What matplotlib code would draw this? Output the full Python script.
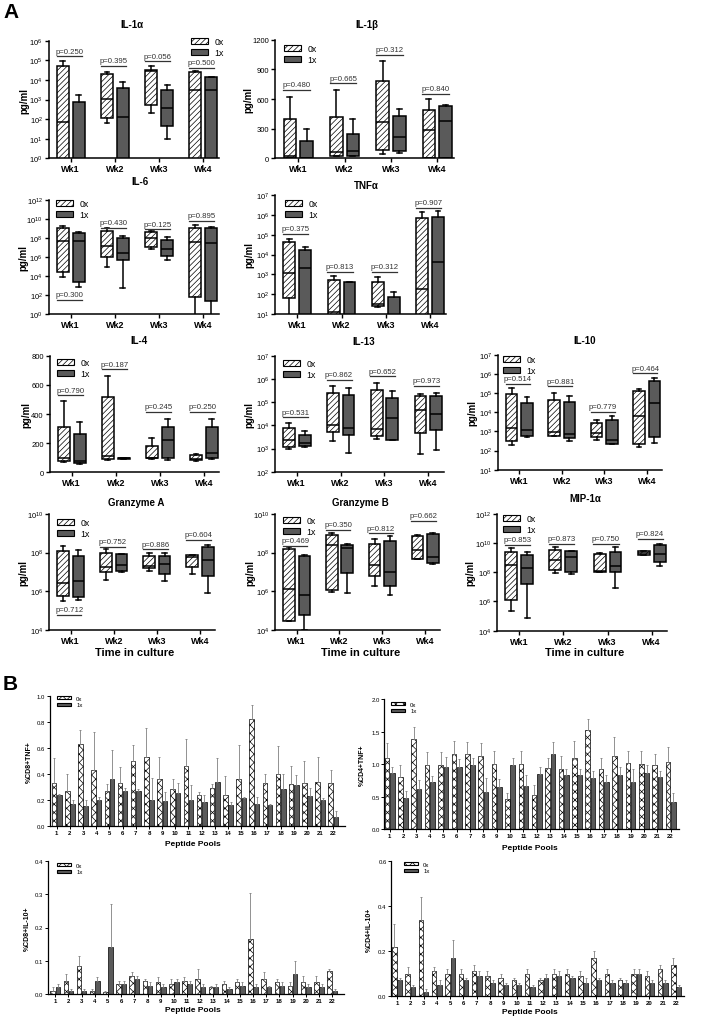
import numpy as np
import matplotlib
matplotlib.use("Agg")
import matplotlib.pyplot as plt
import matplotlib.patches as mpatches
from matplotlib.ticker import FixedLocator, FuncFormatter

plt.rcParams["font.family"] = ["Liberation Sans", "DejaVu Sans"]
plt.rcParams["mathtext.default"] = "regular"
plt.rcParams["hatch.linewidth"] = 0.5

W, H = 707, 1020
DARK = "#5a5a5a"
WEEKS = ["Wk1", "Wk2", "Wk3", "Wk4"]

# ---- Panel A: box summaries per week, [whislo, q1, median, q3, whishi] in pg/ml
IL1A_0X = [[0.1, 0.1, 70, 5.4e4, 9e4], [63, 110, 1070, 1.95e4, 2.6e4],
           [200, 520, 2.95e4, 3.3e4, 4.9e4], [0.1, 0.1, 2950, 2.45e4, 2.9e4]]
IL1A_1X = [[0.1, 0.1, 0.1, 780, 1600], [0.1, 0.1, 125, 4000, 8100],
           [10, 47, 355, 3100, 5800], [0.1, 0.1, 3100, 1.4e4, 1.4e4]]
IL1A_P = ["p=0.250", "p=0.395", "p=0.056", "p=0.500"]
IL1A_PY = [1.6e5, 5.4e4, 9e4, 4e4]

IL1B_0X = [[0, 0, 20, 400, 625], [20, 25, 60, 420, 695],
           [45, 85, 370, 785, 985], [0, 0, 290, 485, 600]]
IL1B_1X = [[0, 0, 0, 170, 300], [20, 25, 75, 245, 400],
           [50, 75, 215, 430, 500], [0, 0, 375, 530, 535]]
IL1B_P = ["p=0.480", "p=0.665", "p=0.312", "p=0.840"]
IL1B_PY = [690, 760, 1045, 650]

IL6_0X = [[8.3e3, 2.8e4, 4.9e7, 1.05e9, 1.9e9], [8.5e4, 1.0e6, 1.5e7, 4.7e8, 1.15e9],
          [6e6, 1.15e7, 8.7e7, 3.7e8, 5.5e8], [0.1, 66, 3.9e7, 1.05e9, 2.2e9]]
IL6_1X = [[630, 2.1e3, 4.9e7, 2.9e8, 4.4e8], [540, 5e5, 2.5e6, 8.7e7, 1.66e8],
          [4.3e5, 1.1e6, 6e6, 6.3e7, 1.1e8], [0.1, 21, 2.8e7, 1.15e9, 1.35e9]]
IL6_P = ["p=0.300", "p=0.430", "p=0.125", "p=0.895"]
IL6_PY = [32, 1.2e9, 7.6e8, 6.2e9]

TNFA_0X = [[1, 62, 1200, 4.5e4, 6e4], [1, 1, 12.6, 510, 850],
           [22, 26, 32, 430, 760], [1, 1, 180, 6.6e5, 1.35e6]]
TNFA_1X = [[1, 1, 2000, 1.7e4, 2.4e4], [1, 1, 1, 400, 400],
           [1, 1, 1, 69, 123], [1, 1, 4400, 7.9e5, 1.5e6]]
TNFA_P = ["p=0.375", "p=0.813", "p=0.312", "p=0.907"]
TNFA_PY = [1.07e5, 1350, 1350, 2.3e6]

IL4_0X = [[68, 80, 98, 308, 490], [87, 91, 109, 520, 661],
          [91, 98, 100, 182, 235], [80, 84, 91, 121, 125]]
IL4_1X = [[57, 64, 80, 262, 342], [91, 91, 96, 98, 98],
          [82, 96, 219, 312, 369], [91, 100, 130, 310, 369]]
IL4_P = ["p=0.790", "p=0.187", "p=0.245", "p=0.250"]
IL4_PY = [529, 707, 415, 415]

IL13_0X = [[955, 1120, 2340, 7400, 1.23e4], [2040, 5370, 1.02e4, 2.4e5, 4.8e5],
           [2570, 3550, 6900, 3.2e5, 6.8e5], [575, 4700, 4.6e4, 1.8e5, 2.2e5]]
IL13_1X = [[1120, 1230, 1660, 3800, 5500], [645, 3800, 7600, 2.0e5, 4.0e5],
           [2240, 2400, 2.0e4, 1.55e5, 2.95e5], [830, 6450, 3.1e4, 1.9e5, 2.4e5]]
IL13_P = ["p=0.531", "p=0.862", "p=0.652", "p=0.973"]
IL13_PY = [2.2e4, 9.1e5, 1.3e6, 5.1e5]

IL10_0X = [[205, 300, 1450, 8.9e4, 1.8e5], [550, 600, 890, 4.6e4, 9.8e4],
           [340, 510, 830, 2630, 4000], [150, 230, 6600, 1.3e5, 1.66e5]]
IL10_1X = [[510, 600, 1150, 3.0e4, 6.0e4], [320, 440, 760, 3.5e4, 7.4e4],
           [210, 210, 370, 4100, 6600], [240, 510, 3.0e4, 4.5e5, 6.2e5]]
IL10_P = ["p=0.514", "p=0.881", "p=0.779", "p=0.464"]
IL10_PY = [3.0e5, 2.3e5, 1.1e4, 1.1e6]

GZA_0X = [[3.0e5, 5.8e5, 2.8e6, 1.15e8, 2.3e8], [3.9e6, 1.0e7, 1.8e7, 9.3e7, 1.5e8],
          [1.07e7, 1.5e7, 2.1e7, 6.8e7, 1.0e8], [7.8e6, 1.8e7, 5.9e7, 7.6e7, 7.6e7]]
GZA_1X = [[3.4e5, 5.1e5, 3.2e6, 6.8e7, 1.35e8], [1.0e7, 1.07e7, 2.2e7, 8.3e7, 8.9e7],
          [3.5e6, 7.8e6, 2.6e7, 6.8e7, 1.0e8], [7.8e5, 5.9e6, 4.0e7, 2.0e8, 2.6e8]]
GZA_P = ["p=0.712", "p=0.752", "p=0.886", "p=0.604"]
GZA_PY = [6e4, 2e8, 1.5e8, 4.4e8]

GZB_0X = [[2.9e4, 2.9e4, 1.3e6, 1.5e8, 2.0e8], [8.7e5, 1.15e6, 2.6e8, 7.9e8, 1.0e9],
          [1.95e6, 5.9e6, 2.2e7, 2.75e8, 5.1e8], [4.5e7, 4.5e7, 1.4e8, 7.1e8, 7.9e8]]
GZB_1X = [[1e4, 5.5e4, 6.3e5, 6.8e7, 7.6e7], [7.8e5, 8.7e6, 1.8e8, 2.6e8, 2.75e8],
          [6.3e5, 1.74e6, 1.0e7, 3.9e8, 7.1e8], [2.45e7, 2.95e7, 5.9e7, 9.3e8, 1.07e9]]
GZB_P = ["p=0.469", "p=0.350", "p=0.812", "p=0.662"]
GZB_PY = [2.2e8, 1.5e9, 1.0e9, 4.4e9]

MIP_0X = [[2.3e5, 1.3e6, 3.2e8, 2.3e9, 4.4e9], [8.9e7, 1.5e8, 7.2e8, 3.5e9, 5.1e9],
          [1.0e8, 1.1e8, 1.15e8, 1.8e9, 2.1e9], [1.5e9, 1.5e9, 2.1e9, 3.0e9, 3.0e9]]
MIP_1X = [[7.4e4, 1.6e7, 1.9e8, 1.5e9, 2.3e9], [7.6e7, 1.1e8, 1.05e9, 3.0e9, 3.0e9],
          [7.9e6, 1.0e8, 2.6e8, 2.6e9, 5.1e9], [2.6e8, 4.8e8, 1.8e9, 7.4e9, 8.7e9]]
MIP_P = ["p=0.853", "p=0.873", "p=0.750", "p=0.824"]
MIP_PY = [7.4e9, 8.7e9, 8.7e9, 1.9e10]

# ---- Panel B: mean and upper SEM per peptide pool
POOLS = list(range(1, 23))
CD8TNF_0X = [0.33, 0.27, 0.63, 0.43, 0.27, 0.33, 0.50, 0.53, 0.36, 0.28, 0.46,
             0.24, 0.29, 0.24, 0.36, 0.82, 0.33, 0.40, 0.32, 0.33, 0.34, 0.33]
CD8TNF_0X_E = [0.19, 0.13, 0.11, 0.29, 0.05, 0.12, 0.12, 0.22, 0.17, 0.08, 0.21,
               0.02, 0.03, 0.14, 0.26, 0.11, 0.07, 0.21, 0.14, 0.17, 0.19, 0.10]
CD8TNF_1X = [0.24, 0.17, 0.15, 0.20, 0.36, 0.27, 0.27, 0.20, 0.19, 0.25, 0.20,
             0.18, 0.34, 0.16, 0.21, 0.17, 0.16, 0.28, 0.31, 0.23, 0.20, 0.07]
CD8TNF_1X_E = [0.005, 0.03, 0.05, 0.02, 0.22, 0.02, 0.01, 0.17, 0.07, 0.08, 0.11,
               0.06, 0.18, 0.02, 0.01, 0.05, 0.01, 0.12, 0.08, 0.06, 0.01, 0.04]

CD4TNF_0X = [1.10, 0.80, 1.39, 0.99, 0.99, 1.15, 1.15, 1.13, 1.00, 0.47, 1.01,
             0.53, 0.94, 0.92, 1.09, 1.52, 0.92, 1.12, 1.02, 1.00, 0.99, 1.04]
CD4TNF_0X_E = [0.22, 0.19, 0.18, 0.20, 0.19, 0.21, 0.19, 0.19, 0.21, 0.09, 0.20,
               0.15, 0.16, 0.21, 0.27, 0.18, 0.18, 0.30, 0.19, 0.20, 0.17, 0.22]
CD4TNF_1X = [0.86, 0.48, 0.62, 0.72, 0.96, 0.96, 0.98, 0.57, 0.65, 0.99, 0.67,
             0.85, 1.15, 0.83, 0.83, 0.79, 0.72, 0.84, 0.72, 0.87, 0.80, 0.41]
CD4TNF_1X_E = [0.09, 0.11, 0.13, 0.09, 0.15, 0.12, 0.12, 0.21, 0.12, 0.11, 0.16,
               0.10, 0.19, 0.09, 0.09, 0.10, 0.11, 0.11, 0.21, 0.12, 0.09, 0.14]

CD8IL10_0X = [0.010, 0.040, 0.085, 0.010, 0.005, 0.030, 0.055, 0.040, 0.035, 0.030, 0.040,
              0.045, 0.020, 0.030, 0.035, 0.165, 0.045, 0.035, 0.025, 0.035, 0.035, 0.070]
CD8IL10_0X_E = [0.010, 0.020, 0.030, 0.005, 0.005, 0.010, 0.010, 0.005, 0.015, 0.015, 0.010,
                0.030, 0.005, 0.010, 0.010, 0.140, 0.020, 0.010, 0.010, 0.020, 0.020, 0.005]
CD8IL10_1X = [0.020, 0.010, 0.010, 0.040, 0.140, 0.030, 0.045, 0.025, 0.020, 0.035, 0.030,
              0.020, 0.020, 0.015, 0.025, 0.020, 0.020, 0.025, 0.060, 0.020, 0.020, 0.010]
CD8IL10_1X_E = [0.010, 0.005, 0.005, 0.010, 0.130, 0.010, 0.010, 0.010, 0.010, 0.010, 0.010,
                0.010, 0.010, 0.005, 0.010, 0.010, 0.005, 0.010, 0.040, 0.010, 0.010, 0.005]

CD4IL10_0X = [0.22, 0.10, 0.34, 0.11, 0.10, 0.10, 0.11, 0.09, 0.08, 0.07, 0.10,
              0.07, 0.10, 0.10, 0.09, 0.17, 0.10, 0.07, 0.10, 0.09, 0.12, 0.14]
CD4IL10_0X_E = [0.10, 0.03, 0.10, 0.02, 0.02, 0.02, 0.03, 0.02, 0.02, 0.01, 0.02,
                0.01, 0.02, 0.02, 0.02, 0.03, 0.02, 0.01, 0.02, 0.02, 0.02, 0.03]
CD4IL10_1X = [0.07, 0.04, 0.02, 0.05, 0.17, 0.07, 0.09, 0.06, 0.05, 0.05, 0.04,
              0.08, 0.09, 0.08, 0.06, 0.07, 0.06, 0.06, 0.10, 0.06, 0.06, 0.04]
CD4IL10_1X_E = [0.01, 0.01, 0.01, 0.02, 0.08, 0.01, 0.02, 0.01, 0.01, 0.01, 0.01,
                0.02, 0.02, 0.01, 0.02, 0.01, 0.01, 0.01, 0.02, 0.01, 0.01, 0.01]

fig = plt.figure(figsize=(W / 100, H / 100), dpi=100)


def px_axes(left, top, right, bottom):
    return fig.add_axes([left / W, 1 - bottom / H, (right - left) / W, (bottom - top) / H])


def ftext(x, y, s, **kw):
    fig.text(x / W, 1 - y / H, s, **kw)


def style_axes(ax, tick_size):
    for side in ("top", "right"):
        ax.spines[side].set_visible(False)
    for side in ("left", "bottom"):
        ax.spines[side].set_linewidth(1.1)
    ax.tick_params(direction="out", length=3, width=1, labelsize=tick_size, pad=1.2)
    ax.minorticks_off()


def legend_at(ax, x, y, fs, hl, hh, hatch):
    handles = [mpatches.Patch(facecolor="white", edgecolor="black", hatch=hatch, lw=0.8, label="0x"),
               mpatches.Patch(facecolor=DARK, edgecolor="black", lw=0.8, label="1x")]
    ax.legend(handles=handles, loc="upper left", bbox_to_anchor=(x / W, 1 - y / H),
              bbox_transform=fig.transFigure, frameon=False, fontsize=fs,
              handlelength=hl, handleheight=hh, labelspacing=0.25, borderpad=0,
              handletextpad=0.8, borderaxespad=0)


def box_panel(rect, title, title_xy, ylab_x, s0, s1, ptxt, py, ylim, yticks, log, leg_xy, xlab=None):
    ax = px_axes(*rect)
    if log:
        ax.set_yscale("log")
    stats, pos = [], []
    for i in range(4):
        for grp, off in ((s0, -0.18), (s1, 0.18)):
            lo, q1, med, q3, hi = grp[i]
            stats.append(dict(whislo=lo, q1=q1, med=med, q3=q3, whishi=hi, fliers=[]))
            pos.append(i + 1 + off)
    bp = ax.bxp(stats, positions=pos, widths=0.27, patch_artist=True, showfliers=False,
                manage_ticks=False, capwidths=0.11,
                boxprops=dict(linewidth=1.1, edgecolor="black"),
                medianprops=dict(color="black", linewidth=1.1),
                whiskerprops=dict(color="black", linewidth=1.1),
                capprops=dict(color="black", linewidth=1.1))
    for k, box in enumerate(bp["boxes"]):
        if k % 2 == 0:
            box.set_facecolor("white")
            box.set_hatch("//////")
        else:
            box.set_facecolor(DARK)
    for i in range(4):
        ax.plot([i + 1 - 0.32, i + 1 + 0.25], [py[i], py[i]], color="#333333", lw=0.9)
        ax.annotate(ptxt[i], xy=(i + 1 - 0.035, py[i]), xytext=(0, 1.2),
                    textcoords="offset points", ha="center", va="bottom",
                    fontsize=5.6, color="#333333")
    ax.set_xlim(0.5, 4.35)
    ax.set_ylim(*ylim)
    ax.yaxis.set_major_locator(FixedLocator(yticks))
    if log:
        ax.yaxis.set_major_formatter(FuncFormatter(
            lambda v, _: r"$\mathregular{10^{%d}}$" % int(round(np.log10(v)))))
    ax.set_xticks([1, 2, 3, 4])
    ax.set_xticklabels(WEEKS, fontweight="bold")
    style_axes(ax, 5.5)
    ax.tick_params(axis="x", labelsize=6.5)
    ftext(title_xy[0], title_xy[1], title, ha="center", va="center", fontsize=7, fontweight="bold")
    mid = (rect[1] + rect[3]) / 2
    ftext(ylab_x, mid, "pg/ml", rotation=90, ha="center", va="center", fontsize=7, fontweight="bold")
    if xlab:
        ftext(xlab[0], xlab[1], "Time in culture", ha="center", va="center",
              fontsize=8, fontweight="bold")
    legend_at(ax, leg_xy[0], leg_xy[1], 6.3, 1.9, 0.55, "//////")
    return ax


def bar_panel(rect, xlim, m0, e0, m1, e1, ylab, ylab_x, ylim, yticks, xlab_xy, leg_xy):
    ax = px_axes(*rect)
    x = np.array(POOLS)
    zeros = np.zeros(len(x))
    ax.bar(x - 0.2, m0, 0.34, facecolor="white", edgecolor="black", hatch="xxxx", lw=0.5)
    ax.bar(x + 0.2, m1, 0.34, facecolor=DARK, edgecolor="black", lw=0.5)
    ax.errorbar(x - 0.2, m0, yerr=[zeros, e0], fmt="none", ecolor="#808080",
                elinewidth=0.6, capsize=0.8, capthick=0.6)
    ax.errorbar(x + 0.2, m1, yerr=[zeros, e1], fmt="none", ecolor="#808080",
                elinewidth=0.6, capsize=0.8, capthick=0.6)
    ax.set_xlim(*xlim)
    ax.set_ylim(*ylim)
    ax.set_yticks(yticks)
    ax.yaxis.set_major_formatter(FuncFormatter(lambda v, _: "%.1f" % v))
    ax.set_xticks(x)
    ax.set_xticklabels([str(p) for p in POOLS], fontweight="bold")
    style_axes(ax, 4.3)
    for side in ("left", "bottom"):
        ax.spines[side].set_linewidth(0.9)
    ax.tick_params(length=2, width=0.7)
    ftext(ylab_x, (rect[1] + rect[3]) / 2, ylab, rotation=90, ha="center", va="center",
          fontsize=5, fontweight="bold")
    ftext(xlab_xy[0], xlab_xy[1], "Peptide Pools", ha="center", va="center",
          fontsize=6, fontweight="bold")
    legend_at(ax, leg_xy[0], leg_xy[1], 4.3, 2.4, 0.45, "xxxx")
    return ax


# ---- Panel A
ftext(3, 12, "A", fontsize=15, fontweight="bold", va="center")
E = lambda a, b: list(range(a, b + 1))

box_panel((48.6, 41.7, 218.8, 159.3), "IL-1α", (131.7, 25), 24, IL1A_0X, IL1A_1X,
          IL1A_P, IL1A_PY, (1, 1e6), [10.0 ** k for k in E(0, 6)], True, (191, 38))
box_panel((275.1, 40.7, 453.5, 159.3), "IL-1β", (366.7, 25), 248.5, IL1B_0X, IL1B_1X,
          IL1B_P, IL1B_PY, (0, 1200), [0, 300, 600, 900, 1200], False, (284, 45))
box_panel((48.6, 200.7, 218.8, 315), "IL-6", (140, 181.7), 23, IL6_0X, IL6_1X,
          IL6_P, IL6_PY, (1, 1e12), [10.0 ** k for k in range(0, 13, 2)], True, (56, 200))
box_panel((275.2, 196, 445.5, 315), "TNFα", (366.7, 186), 249.5, TNFA_0X, TNFA_1X,
          TNFA_P, TNFA_PY, (10, 1e7), [10.0 ** k for k in E(1, 7)], True, (285, 200))
box_panel((49.6, 356.7, 219.4, 473.3), "IL-4", (139, 340.7), 26, IL4_0X, IL4_1X,
          IL4_P, IL4_PY, (0, 800), [0, 200, 400, 600, 800], False, (57, 359))
box_panel((274.8, 356.7, 443.7, 472.7), "IL-13", (364, 341.7), 249.5, IL13_0X, IL13_1X,
          IL13_P, IL13_PY, (100, 1e7), [10.0 ** k for k in E(2, 7)], True, (283, 360))
box_panel((498.1, 356, 661.6, 470.7), "IL-10", (585, 341), 472.5, IL10_0X, IL10_1X,
          IL10_P, IL10_PY, (10, 1e7), [10.0 ** k for k in E(1, 7)], True, (503, 356))
box_panel((49.1, 515, 215.1, 630.7), "Granzyme A", (136, 503.3), 23, GZA_0X, GZA_1X,
          GZA_P, GZA_PY, (1e4, 1e10), [10.0 ** k for k in range(4, 11, 2)], True, (57, 519),
          xlab=(135, 652.7))
box_panel((275.3, 515, 440, 630.7), "Granzyme B", (360.7, 502.7), 250, GZB_0X, GZB_1X,
          GZB_P, GZB_PY, (1e4, 1e10), [10.0 ** k for k in range(4, 11, 2)], True, (283, 517),
          xlab=(360.7, 652.7))
box_panel((497.2, 514.8, 667.1, 631.7), "MIP-1α", (585, 499.3), 470, MIP_0X, MIP_1X,
          MIP_P, MIP_PY, (1e4, 1e12), [10.0 ** k for k in range(4, 13, 2)], True, (503, 515),
          xlab=(585, 652.7))

# ---- Panel B
ftext(3, 685, "B", fontsize=15, fontweight="bold", va="center")
bar_panel((49.5, 696.7, 345.2, 826.7), (0.45, 22.9), CD8TNF_0X, CD8TNF_0X_E, CD8TNF_1X,
          CD8TNF_1X_E, "%CD8+TNF+", 29, (0, 1.0), [0, 0.2, 0.4, 0.6, 0.8, 1.0], (193, 845), (57, 697))
bar_panel((384.3, 700.3, 678.7, 830), (0.6, 22.6), CD4TNF_0X, CD4TNF_0X_E, CD4TNF_1X,
          CD4TNF_1X_E, "%CD4+TNF+", 362.5, (0, 2.0), [0, 0.5, 1.0, 1.5, 2.0], (530, 848), (391, 703))
bar_panel((48, 862, 344, 995), (0.45, 22.9), CD8IL10_0X, CD8IL10_0X_E, CD8IL10_1X,
          CD8IL10_1X_E, "%CD8+IL-10+", 27, (0, 0.4), [0, 0.1, 0.2, 0.3, 0.4], (193, 1011), (57, 864))
bar_panel((391, 862, 684, 997), (0.55, 22.6), CD4IL10_0X, CD4IL10_0X_E, CD4IL10_1X,
          CD4IL10_1X_E, "%CD4+IL-10+", 369, (0, 0.6), [0, 0.2, 0.4, 0.6], (530, 1013), (404, 863))

fig.savefig("out.png", dpi=100)
